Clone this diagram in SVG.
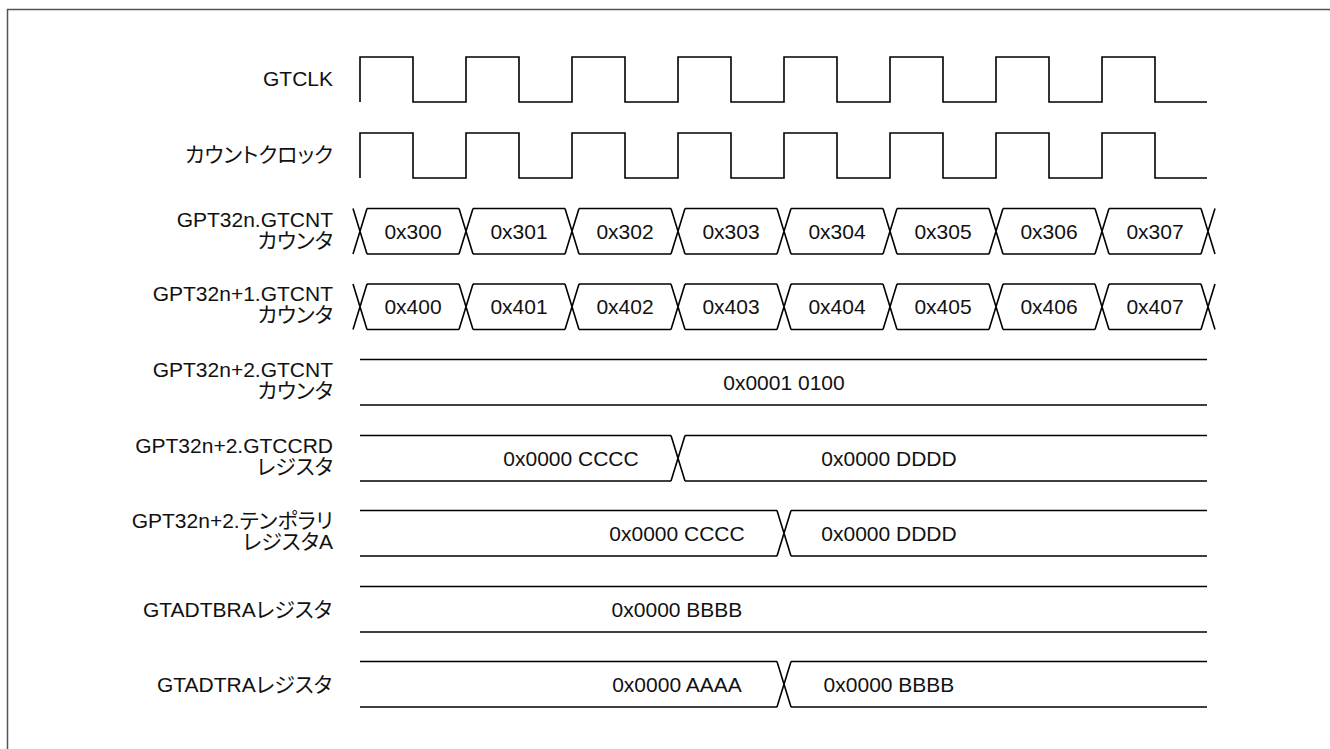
<svg xmlns="http://www.w3.org/2000/svg" xmlns:xlink="http://www.w3.org/1999/xlink" width="1330" height="749" viewBox="0 0 1330 749">
<style>
.w{fill:none;stroke:#000;stroke-width:1.6;stroke-linejoin:miter}
.lb{font-family:"Liberation Sans","Noto Sans CJK JP",sans-serif;font-size:21px;fill:#111;text-anchor:end;font-feature-settings:"palt"}
.v{font-family:"Liberation Sans","Noto Sans CJK JP",sans-serif;font-size:21px;fill:#111;text-anchor:middle}
</style>
<defs>
<path id="seg" class="w" d="M-7,0 L7,45.5 M-7,45.5 L7,0 M7,0 H99 M7,45.5 H99"/>
<path id="xx" class="w" d="M-7,0 L7,45.5 M-7,45.5 L7,0"/>
</defs>
<rect x="7.5" y="9.5" width="1400" height="800" fill="#fff" stroke="#555" stroke-width="1.5"/>

<g id="gtclk">
<text class="lb" x="333" y="85.5">GTCLK</text>
<path class="w" d="M360,102 V57 H413 V102 H466 V57 H519 V102 H572 V57 H625 V102 H678 V57 H731 V102 H784 V57 H837 V102 H890 V57 H943 V102 H996 V57 H1049 V102 H1102 V57 H1155 V102 H1207"/>
</g>

<g id="countclock">
<text class="lb" x="333" y="162">カウントクロック</text>
<path class="w" d="M360,178 V133 H413 V178 H466 V133 H519 V178 H572 V133 H625 V178 H678 V133 H731 V178 H784 V133 H837 V178 H890 V133 H943 V178 H996 V133 H1049 V178 H1102 V133 H1155 V178 H1207"/>
</g>

<g id="gpt32n-gtcnt">
<text class="lb" x="333" y="226.5">GPT32n.GTCNT</text>
<text class="lb" x="333" y="247.5">カウンタ</text>
<use xlink:href="#seg" x="360" y="208.5"/>
<use xlink:href="#seg" x="466" y="208.5"/>
<use xlink:href="#seg" x="572" y="208.5"/>
<use xlink:href="#seg" x="678" y="208.5"/>
<use xlink:href="#seg" x="784" y="208.5"/>
<use xlink:href="#seg" x="890" y="208.5"/>
<use xlink:href="#seg" x="996" y="208.5"/>
<use xlink:href="#seg" x="1102" y="208.5"/>
<use xlink:href="#xx" x="1208" y="208.5"/>
<text class="v" x="413" y="238.5">0x300</text>
<text class="v" x="519" y="238.5">0x301</text>
<text class="v" x="625" y="238.5">0x302</text>
<text class="v" x="731" y="238.5">0x303</text>
<text class="v" x="837" y="238.5">0x304</text>
<text class="v" x="943" y="238.5">0x305</text>
<text class="v" x="1049" y="238.5">0x306</text>
<text class="v" x="1155" y="238.5">0x307</text>
</g>

<g id="gpt32n1-gtcnt">
<text class="lb" x="333" y="301">GPT32n+1.GTCNT</text>
<text class="lb" x="333" y="322">カウンタ</text>
<use xlink:href="#seg" x="360" y="284"/>
<use xlink:href="#seg" x="466" y="284"/>
<use xlink:href="#seg" x="572" y="284"/>
<use xlink:href="#seg" x="678" y="284"/>
<use xlink:href="#seg" x="784" y="284"/>
<use xlink:href="#seg" x="890" y="284"/>
<use xlink:href="#seg" x="996" y="284"/>
<use xlink:href="#seg" x="1102" y="284"/>
<use xlink:href="#xx" x="1208" y="284"/>
<text class="v" x="413" y="314">0x400</text>
<text class="v" x="519" y="314">0x401</text>
<text class="v" x="625" y="314">0x402</text>
<text class="v" x="731" y="314">0x403</text>
<text class="v" x="837" y="314">0x404</text>
<text class="v" x="943" y="314">0x405</text>
<text class="v" x="1049" y="314">0x406</text>
<text class="v" x="1155" y="314">0x407</text>
</g>

<g id="gpt32n2-gtcnt">
<text class="lb" x="333" y="377">GPT32n+2.GTCNT</text>
<text class="lb" x="333" y="398">カウンタ</text>
<path class="w" d="M360,359.5 H1207 M360,405 H1207"/>
<text class="v" x="784" y="389.5">0x0001 0100</text>
</g>

<g id="gpt32n2-gtccrd">
<text class="lb" x="333" y="453">GPT32n+2.GTCCRD</text>
<text class="lb" x="333" y="474">レジスタ</text>
<path class="w" d="M360,435.5 H671 M360,481 H671 M685,435.5 H1207 M685,481 H1207"/>
<use xlink:href="#xx" x="678" y="435.5"/>
<text class="v" x="571" y="465.5">0x0000 CCCC</text>
<text class="v" x="889" y="465.5">0x0000 DDDD</text>
</g>

<g id="gpt32n2-temp">
<text class="lb" x="333" y="528">GPT32n+2.テンポラリ</text>
<text class="lb" x="333" y="549">レジスタA</text>
<path class="w" d="M360,510.5 H777 M360,556 H777 M791,510.5 H1207 M791,556 H1207"/>
<use xlink:href="#xx" x="784" y="510.5"/>
<text class="v" x="677" y="540.5">0x0000 CCCC</text>
<text class="v" x="889" y="540.5">0x0000 DDDD</text>
</g>

<g id="gtadtbra">
<text class="lb" x="332" y="616.5">GTADTBRAレジスタ</text>
<path class="w" d="M360,586.5 H1207 M360,632 H1207"/>
<text class="v" x="677" y="616.5">0x0000 BBBB</text>
</g>

<g id="gtadtra">
<text class="lb" x="332" y="691.5">GTADTRAレジスタ</text>
<path class="w" d="M360,661.5 H777 M360,707 H777 M791,661.5 H1207 M791,707 H1207"/>
<use xlink:href="#xx" x="784" y="661.5"/>
<text class="v" x="677" y="691.5">0x0000 AAAA</text>
<text class="v" x="889" y="691.5">0x0000 BBBB</text>
</g>

<g id="connectors"></g>
</svg>
